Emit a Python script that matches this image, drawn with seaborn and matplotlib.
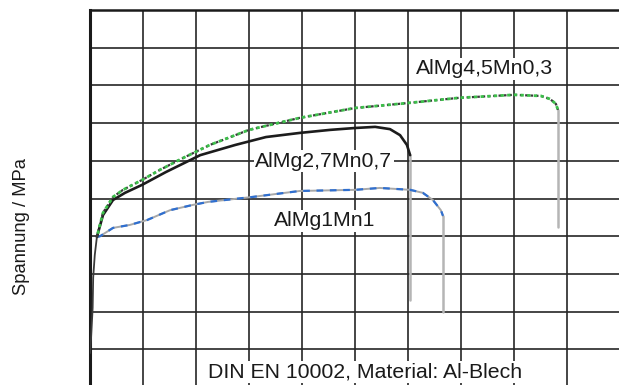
import matplotlib
matplotlib.use("Agg")
import matplotlib.pyplot as plt
import seaborn as sns
import pandas as pd
import numpy as np

# ---- data (grid units: x = strain, y = stress) ----
elastic_x = [0.00, 0.02, 0.05, 0.06, 0.09, 0.13]
elastic_y = [0.90, 1.30, 2.10, 2.90, 3.50, 3.98]

almg45_x = [0.13, 0.245, 0.434, 0.623, 0.98, 1.32, 1.75, 2.26, 3.00, 3.96, 5.00, 5.98, 6.96, 8.00, 8.51, 8.68, 8.79, 8.83]
almg45_y = [3.98, 4.62, 5.04, 5.23, 5.49, 5.76, 6.07, 6.42, 6.82, 7.14, 7.40, 7.53, 7.67, 7.75, 7.72, 7.64, 7.51, 7.35]

almg27_x = [0.13, 0.245, 0.434, 0.66, 0.98, 1.43, 2.08, 2.74, 3.32, 3.96, 4.53, 5.00, 5.38, 5.66, 5.85, 5.98, 6.04]
almg27_y = [3.98, 4.56, 4.96, 5.15, 5.36, 5.70, 6.15, 6.42, 6.63, 6.74, 6.82, 6.87, 6.90, 6.84, 6.68, 6.42, 6.15]

almg1_x = [0.13, 0.19, 0.434, 0.755, 1.08, 1.51, 1.94, 2.23, 3.06, 3.96, 5.00, 5.47, 6.04, 6.28, 6.47, 6.62, 6.66]
almg1_y = [3.98, 4.00, 4.22, 4.30, 4.43, 4.69, 4.83, 4.91, 5.04, 5.20, 5.23, 5.28, 5.23, 5.15, 4.96, 4.69, 4.54]

# fracture drops: strain, stress at top, stress at bottom
drop_names = ["AlMg4,5Mn0,3", "AlMg2,7Mn0,7", "AlMg1Mn1"]
drop_x = [8.83, 6.04, 6.66]
drop_top = [7.35, 6.15, 4.54]
drop_bottom = [4.24, 2.31, 1.99]

labels = ["AlMg4,5Mn0,3", "AlMg2,7Mn0,7", "AlMg1Mn1"]
note = "DIN EN 10002, Material: Al-Blech"
ylabel = "Spannung / MPa"

# ---- figure ----
sns.set_theme(style="white")
plt.rcParams["font.family"] = ["Liberation Sans", "DejaVu Sans"]

fig = plt.figure(figsize=(6.19, 3.85), dpi=100)
ax = fig.add_axes([90 / 619, -2 / 385, 530 / 619, 377 / 385])
ax.set_xlim(0, 10)
ax.set_ylim(0, 10)
ax.set_xticks(np.arange(0, 11, 1))
ax.set_yticks(np.arange(0, 11, 1))
ax.set_xticklabels([])
ax.set_yticklabels([])
ax.tick_params(length=0)
ax.grid(True, color="#262626", linewidth=1.2, zorder=0)
ax.set_axisbelow(True)
for s in ax.spines.values():
    s.set_color("#1a1a1a")
ax.spines["left"].set_linewidth(2.2)
ax.spines["top"].set_linewidth(1.8)

# fracture drops (light grey)
for xv, yt, yb in zip(drop_x, drop_top, drop_bottom):
    d = pd.DataFrame({"x": [xv, xv], "y": [yt, yb]})
    sns.lineplot(data=d, x="x", y="y", ax=ax, color="#b5b5b5", linewidth=1.8,
                 sort=False, estimator=None, zorder=3)

# AlMg1Mn1: grey base with blue dashes
d1 = pd.DataFrame({"x": almg1_x, "y": almg1_y})
sns.lineplot(data=d1, x="x", y="y", ax=ax, color="#a8a8a8", linewidth=1.4,
             sort=False, estimator=None, zorder=4)
sns.lineplot(data=d1, x="x", y="y", ax=ax, color="#2f6fd0", linewidth=1.6,
             sort=False, estimator=None, zorder=5, linestyle=(0, (3, 3)))

# AlMg2,7Mn0,7: black
d2 = pd.DataFrame({"x": almg27_x, "y": almg27_y})
sns.lineplot(data=d2, x="x", y="y", ax=ax, color="#1c1c1c", linewidth=1.9,
             sort=False, estimator=None, zorder=5)

# AlMg4,5Mn0,3: black/green dotted
d3 = pd.DataFrame({"x": almg45_x, "y": almg45_y})
sns.lineplot(data=d3, x="x", y="y", ax=ax, color="#3a3a3a", linewidth=1.6,
             sort=False, estimator=None, zorder=5, linestyle=(0, (1.2, 1.2)))
sns.lineplot(data=d3, x="x", y="y", ax=ax, color="#3cbf4a", linewidth=2.0,
             sort=False, estimator=None, zorder=6, linestyle=(1.2, (1.2, 1.2)))

# shared elastic part
de = pd.DataFrame({"x": elastic_x, "y": elastic_y})
sns.lineplot(data=de, x="x", y="y", ax=ax, color="#3a3a3a", linewidth=1.3,
             sort=False, estimator=None, zorder=6)

ax.set_xlabel("")
ax.set_ylabel("")

box = dict(facecolor="white", edgecolor="none", pad=1.0)
ax.text(7.44, 8.29, labels[0], ha="center", va="baseline", fontsize=15.3,
        color="#1a1a1a", bbox=box, zorder=7)
ax.text(4.41, 5.84, labels[1], ha="center", va="baseline", fontsize=15.3,
        color="#1a1a1a", bbox=box, zorder=7)
ax.text(4.42, 4.27, labels[2], ha="center", va="baseline", fontsize=15.3,
        color="#1a1a1a", bbox=box, zorder=7)
ax.text(5.19, 0.24, note, ha="center", va="baseline", fontsize=15.3,
        color="#1a1a1a", bbox=box, zorder=7)

fig.text(22 / 619, 0.412, ylabel, rotation=90, ha="center", va="center",
         fontsize=13.2, color="#1a1a1a")

fig.savefig("out.png", dpi=100)
